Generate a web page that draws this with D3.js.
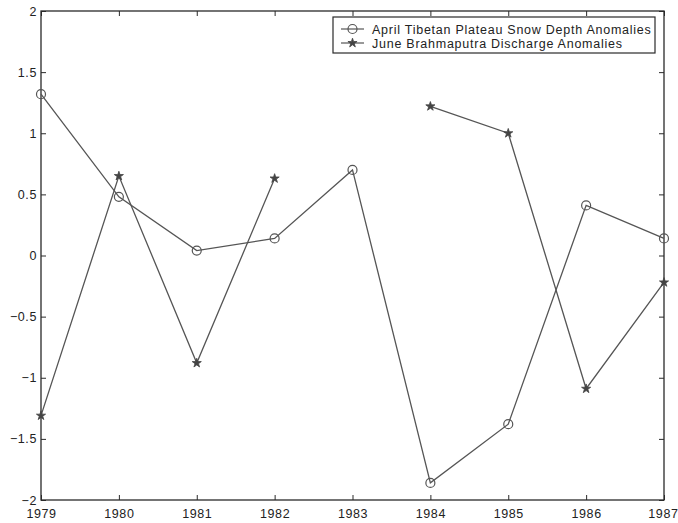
<!DOCTYPE html>
<html>
<head>
<meta charset="utf-8">
<script src="https://cdn.jsdelivr.net/npm/d3@7/dist/d3.min.js"></script>
<style>
  html, body { margin: 0; padding: 0; background: #fff; }
  svg text { font-family: "Liberation Sans", Arial, sans-serif; }
</style>
</head>
<body>
<svg id="chart" width="678" height="523"></svg>
<script>
// Years on the x axis
const years = [1979, 1980, 1981, 1982, 1983, 1984, 1985, 1986, 1987];
// April Tibetan Plateau snow depth anomalies
const snowDepth = [1.32, 0.48, 0.04, 0.14, 0.70, -1.86, -1.38, 0.41, 0.14];
// June Brahmaputra discharge anomalies (no value for 1983)
const discharge = [-1.31, 0.65, -0.88, 0.63, null, 1.22, 1.00, -1.09, -0.22];
// Tick labels
const yTicks = [-2, -1.5, -1, -0.5, 0, 0.5, 1, 1.5, 2];
const seriesNames = ["April Tibetan Plateau Snow Depth Anomalies", "June Brahmaputra Discharge Anomalies"];

const svg = d3.select("#chart");
const plotLeft = 41, plotRight = 664, plotTop = 11, plotBottom = 500;

const x = d3.scaleLinear().domain([1979, 1987]).range([plotLeft, plotRight]);
const y = d3.scaleLinear().domain([-2, 2]).range([plotBottom, plotTop]);

const axisColor = "#2a2a2a";
const lineColor = "#555";

// Box
svg.append("rect")
  .attr("x", plotLeft).attr("y", plotTop)
  .attr("width", plotRight - plotLeft).attr("height", plotBottom - plotTop)
  .attr("fill", "none").attr("stroke", axisColor).attr("stroke-width", 1.3);

// Axes with inward ticks (bottom/left labelled, top/right bare)
function styleAxis(g) {
  g.select(".domain").remove();
  g.selectAll("line").attr("stroke", axisColor).attr("stroke-width", 1);
  g.selectAll("text").attr("fill", "#222").style("font-size", "12.5px").style("letter-spacing", "0.6px");
}
const xAxisG = svg.append("g").attr("transform", `translate(0,${plotBottom})`)
  .call(d3.axisBottom(x).tickValues(years).tickFormat(d3.format("d")).tickSizeInner(-5).tickPadding(9))
  .call(styleAxis);
// keep the last year label inside the right edge of the page
xAxisG.selectAll(".tick text").filter(d => d === years[years.length - 1])
  .attr("text-anchor", "end").attr("x", 14);
svg.append("g").attr("transform", `translate(0,${plotTop})`)
  .call(d3.axisTop(x).tickValues(years).tickFormat("").tickSizeInner(-5))
  .call(styleAxis);
svg.append("g").attr("transform", `translate(${plotLeft},0)`)
  .call(d3.axisLeft(y).tickValues(yTicks).tickFormat(d => d3.format("")(d).replace("-", "\u2212")).tickSizeInner(-5).tickPadding(4))
  .call(styleAxis);
svg.append("g").attr("transform", `translate(${plotRight},0)`)
  .call(d3.axisRight(y).tickValues(yTicks).tickFormat("").tickSizeInner(-5))
  .call(styleAxis);

const line = d3.line()
  .defined(d => d.v !== null)
  .x(d => x(d.year)).y(d => y(d.v));

const snowData = years.map((yr, i) => ({ year: yr, v: snowDepth[i] }));
const dischData = years.map((yr, i) => ({ year: yr, v: discharge[i] }));

const plot = svg.append("g");

plot.append("path").datum(snowData).attr("d", line)
  .attr("fill", "none").attr("stroke", lineColor).attr("stroke-width", 1.3);
plot.append("path").datum(dischData).attr("d", line)
  .attr("fill", "none").attr("stroke", lineColor).attr("stroke-width", 1.3);

const star = d3.symbol().type(d3.symbolStar).size(26);

plot.selectAll("circle.snow").data(snowData.filter(d => d.v !== null)).join("circle")
  .attr("class", "snow")
  .attr("cx", d => x(d.year)).attr("cy", d => y(d.v)).attr("r", 4.5)
  .attr("fill", "none").attr("stroke", lineColor).attr("stroke-width", 1.2);

plot.selectAll("path.disch").data(dischData.filter(d => d.v !== null)).join("path")
  .attr("class", "disch")
  .attr("transform", d => `translate(${x(d.year)},${y(d.v)})`)
  .attr("d", star)
  .attr("fill", "#444").attr("stroke", "#444").attr("stroke-width", 0.8);

// Legend
const lg = svg.append("g");
lg.append("rect").attr("x", 333).attr("y", 17).attr("width", 322).attr("height", 36)
  .attr("fill", "#fff").attr("stroke", axisColor).attr("stroke-width", 1.2);
const rows = [29, 43];
rows.forEach((ry, i) => {
  lg.append("line").attr("x1", 341).attr("x2", 364).attr("y1", ry).attr("y2", ry)
    .attr("stroke", lineColor).attr("stroke-width", 1.2);
  if (i === 0) {
    lg.append("circle").attr("cx", 352.5).attr("cy", ry).attr("r", 4.5)
      .attr("fill", "none").attr("stroke", lineColor).attr("stroke-width", 1.2);
  } else {
    lg.append("path").attr("transform", `translate(352.5,${ry})`).attr("d", star)
      .attr("fill", "#444").attr("stroke", "#444").attr("stroke-width", 0.8);
  }
  lg.append("text").attr("x", 372).attr("y", ry + 4.5)
    .attr("fill", "#222").style("font-size", "12.5px").style("letter-spacing", "0.75px")
    .text(seriesNames[i]);
});
</script>
</body>
</html>
